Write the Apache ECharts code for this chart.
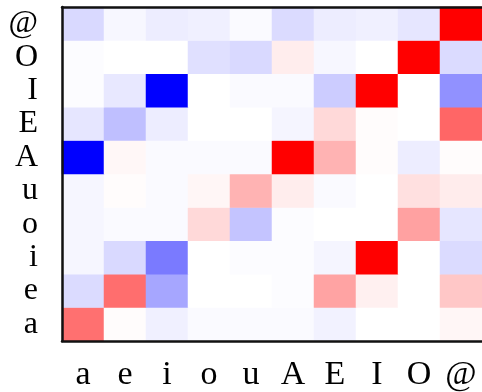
<!DOCTYPE html>
<html><head><meta charset="utf-8">
<script src="https://cdn.jsdelivr.net/npm/echarts@6/dist/echarts.min.js"></script>
<style>html,body{margin:0;padding:0;background:#fff}#c{width:482px;height:392px}</style>
</head><body><div id="c"></div>
<script>
const xCategories = ['a','e','i','o','u','A','E','I','O','@'];
const yCategories = ['a','e','i','o','u','A','E','I','O','@'];
// rows indexed by y category (bottom to top), values by x category
const row_a  = [0.56, 0.01, -0.06, -0.02, -0.02, -0.02, -0.05, 0, 0, 0.035];
const row_e  = [-0.14, 0.57, -0.35, 0, 0, -0.01, 0.36, 0.06, 0, 0.22];
const row_i  = [-0.035, -0.15, -0.52, 0, -0.01, -0.01, -0.04, 1.0, 0, -0.14];
const row_o  = [-0.035, -0.02, -0.02, 0.15, -0.23, -0.01, 0, 0, 0.37, -0.1];
const row_u  = [-0.035, 0.01, -0.02, 0.035, 0.3, 0.07, -0.02, 0, 0.12, 0.075];
const row_A  = [-1.0, 0.03, -0.02, -0.02, -0.02, 1.0, 0.3, 0.01, -0.07, 0.01];
const row_E  = [-0.1, -0.25, -0.07, 0, 0, -0.04, 0.15, 0.01, 0, 0.6];
const row_I  = [-0.01, -0.09, -1.0, 0, -0.02, -0.02, -0.2, 1.0, 0, -0.43];
const row_O  = [-0.01, 0, 0, -0.12, -0.15, 0.07, -0.03, 0, 1.0, -0.14];
const row_at = [-0.15, -0.03, -0.07, -0.06, -0.02, -0.14, -0.07, -0.06, -0.1, 1.0];
const rows = [row_a, row_e, row_i, row_o, row_u, row_A, row_E, row_I, row_O, row_at];

const data = [];
rows.forEach((r, yi) => r.forEach((v, xi) => data.push([xi, yi, v])));

const font = 'Liberation Serif';
const chart = echarts.init(document.getElementById('c'));
chart.setOption({
  animation: false,
  grid: {left: 62, top: 7, right: -2, bottom: 49},
  xAxis: [{
    type: 'category', data: xCategories, z: 10,
    axisLine: {show: true, lineStyle: {color: '#111', width: 2.5}},
    axisTick: {show: false}, splitLine: {show: false},
    axisLabel: {interval: 0, fontFamily: font, fontSize: 34, color: '#000', margin: 17}
  }, {
    type: 'category', data: xCategories, position: 'top', z: 10,
    axisLine: {show: true, lineStyle: {color: '#111', width: 2.5}},
    axisTick: {show: false}, axisLabel: {show: false}, splitLine: {show: false}
  }],
  yAxis: {
    type: 'category', data: yCategories, z: 10,
    axisLine: {show: true, lineStyle: {color: '#111', width: 2.5}},
    axisTick: {show: false}, splitLine: {show: false},
    axisLabel: {interval: 0, hideOverlap: false, fontFamily: font, fontSize: 32, color: '#000', margin: 24}
  },
  visualMap: {show: false, min: -1, max: 1, dimension: 2,
    inRange: {color: ['#0000ff', '#ffffff', '#ff0000']}},
  series: [{type: 'heatmap', data: data, xAxisIndex: 0, yAxisIndex: 0}]
});
</script></body></html>
